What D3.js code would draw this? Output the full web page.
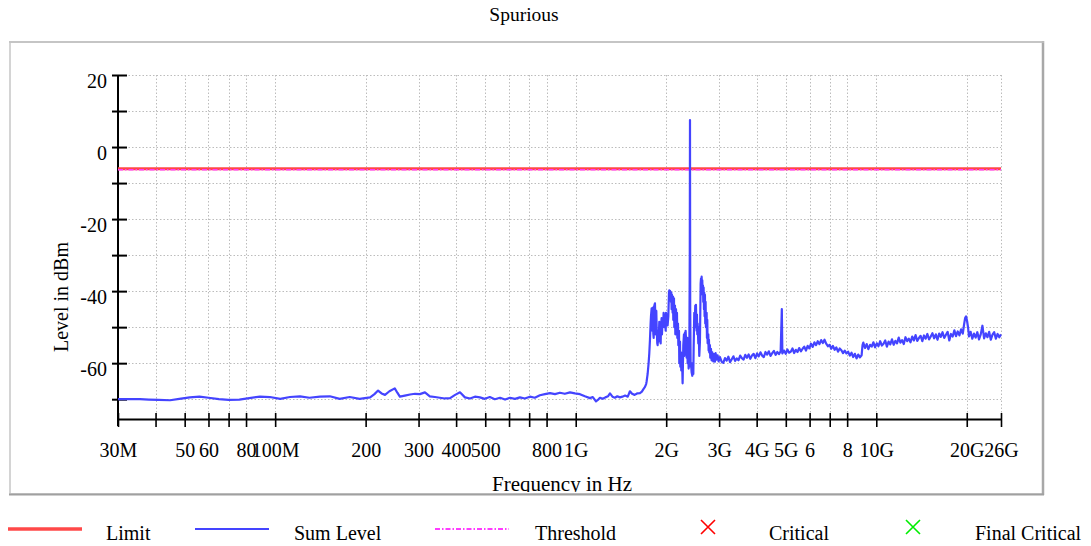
<!DOCTYPE html>
<html><head><meta charset="utf-8">
<script src="https://cdn.jsdelivr.net/npm/d3@7"></script>
<style>
body{margin:0;background:#fff}
svg{display:block}
text{font-family:"Liberation Serif","Times New Roman",serif;fill:#000}
</style>
</head><body>
<svg id="c" width="1091" height="546"></svg>
<script>
// ---------------- data ----------------
const chartTitle = "Spurious";
const xAxisTitle = "Frequency in Hz";
const yAxisTitle = "Level in dBm";
// frequency ticks in MHz
const xTickValues = [30,40,50,60,70,80,100,200,300,400,500,600,700,800,1000,2000,3000,4000,5000,6000,7000,8000,10000,20000,26000];
const xTickLabels = ["30M","","50","60","","80","100M","200","300","400","500","","","800","1G","2G","3G","4G","5G","6","","8","10G","20G","26G"];
const yTickValues = [-70,-60,-50,-40,-30,-20,-10,0,10,20];
const yTickLabels = ["","-60","","-40","","-20","","0","","20"];
const legendNames = ["Limit","Sum Level","Threshold","Critical","Final Critical"];
// limit / threshold lines  [MHz, dBm]
const limitLine = [[30,-6],[26000,-6]];
const thresholdLine = [[30,-6],[26000,-6]];
// measured sum level trace [MHz, dBm]
const sumLevel = [
[30,-70],[33,-70],[35.5,-70],[38,-70.1],[41,-70.2],[44.7,-70.3],[48,-69.9],[52,-69.5],[56,-69.3],[60,-69.6],
[65,-70],[70,-70.2],[76,-70.1],[82,-69.7],[89,-69.3],[96,-69.4],[104,-69.9],[112,-69.4],[121,-69.2],[130,-69.6],
[141,-69.3],[152,-69.2],[164,-69.9],[177,-69.4],[191,-69.9],[207,-69.5],[214,-68.6],[220,-67.6],[226,-68.4],[232,-68.8],
[240,-67.8],[250,-67],[255,-68.2],[260,-69.3],[270,-69],[281,-68.7],[292,-68.5],[303,-68.6],[315,-68.1],[327,-69.2],
[340,-69.4],[353,-69.6],[367,-69.8],[382,-69.7],[397,-68.8],[412,-68.1],[428,-69.5],[445,-69.8],[462,-69.3],[480,-69.5],
[498,-69.9],[518,-69.4],[538,-70],[560,-69.6],[582,-70.1],[604,-69.6],[628,-69.9],[652,-69.5],[677,-69.8],[704,-69.3],
[731,-69.6],[760,-68.9],[790,-68.6],[821,-68.3],[853,-68.6],[886,-68.2],[920,-68.5],[957,-68.1],[994,-68.4],[1033,-68.6],
[1073,-69.2],[1115,-69.7],[1140,-69.4],[1168,-70.6],[1185,-70.2],[1204,-69.6],[1230,-69.9],[1255,-69.5],[1280,-69.2],[1300,-68.4],
[1325,-69.3],[1350,-69.6],[1375,-69.2],[1403,-69.5],[1430,-69.3],[1460,-69],[1490,-69.3],[1515,-67.8],[1540,-68.5],[1570,-68.8],
[1600,-68.4],[1636,-68.3],[1660,-67.9],[1680,-67.2],[1700,-66.6],[1715,-65.8],[1722,-65],[1735,-63],[1748,-60],[1757,-57.3],
[1766,-53.6],[1775,-49],[1780,-47],[1789,-44.8],[1794,-47],[1798,-51],[1803,-45],[1807,-44.6],[1812,-51.8],[1817,-53],
[1821,-48],[1826,-44],[1835,-43.4],[1840,-47],[1844,-52],[1849,-48],[1854,-45.5],[1859,-50],[1868,-54.5],[1873,-55],
[1883,-51],[1888,-54],[1897,-48.5],[1902,-53],[1907,-49],[1917,-54.5],[1922,-50],[1931,-47.5],[1936,-52],[1946,-47.6],
[1956,-48.5],[1961,-46],[1971,-50],[1981,-46.5],[1992,-51],[1997,-46],[2007,-48.5],[2017,-46.5],[2022,-49.5],[2033,-47],
[2043,-40.5],[2048,-39.8],[2054,-42],[2059,-39.9],[2070,-41],[2075,-43],[2080,-40.4],[2085,-45],[2091,-41],[2101,-46],
[2107,-41.5],[2112,-48],[2123,-42],[2128,-50],[2139,-44],[2145,-52],[2156,-45],[2167,-50],[2172,-46],[2178,-53],
[2189,-49],[2195,-55],[2206,-51],[2211,-60],[2223,-54],[2229,-61],[2240,-57],[2245,-62],[2257,-58],[2268,-65.6],
[2274,-60],[2280,-55],[2292,-52],[2298,-58],[2309,-51.5],[2315,-57],[2321,-51],[2333,-55],[2339,-58.5],[2351,-53],
[2357,-60],[2369,-56],[2375,-61.5],[2381,-57],[2387,-60],[2396,-30],[2400,7.5],[2404,-45],[2412,-61],[2418,-60],
[2430,-62.5],[2443,-63.5],[2449,-60],[2462,-63],[2468,-56],[2474,-51],[2480,-46],[2487,-50],[2499,-44],[2505,-47],
[2512,-43.8],[2518,-48],[2525,-51],[2531,-46.5],[2538,-52],[2545,-49],[2558,-54.5],[2564,-50],[2577,-58],[2590,-54],
[2597,-46],[2604,-38],[2611,-36.5],[2617,-40],[2624,-36],[2631,-39.5],[2637,-37],[2644,-41],[2651,-38.5],[2657,-43],
[2664,-39],[2671,-45],[2678,-40.5],[2684,-47],[2691,-41],[2698,-49],[2705,-43],[2712,-50],[2726,-46],[2733,-53],
[2740,-48],[2747,-54.5],[2761,-52],[2768,-56.5],[2775,-53.5],[2782,-57],[2796,-55],[2803,-58.5],[2818,-56],[2832,-59.2],
[2847,-57],[2869,-59.5],[2883,-57.5],[2905,-59.6],[2920,-57.2],[2943,-59],[2965,-57.8],[2988,-59.5],
[3019,-58.3],[3058,-59.6],[3098,-59.9],[3138,-58.6],[3179,-59.3],[3220,-58.2],[3262,-59.7],[3305,-58.9],[3348,-58.1],[3391,-59.4],
[3435,-58.7],[3480,-59.2],[3525,-57.9],[3571,-58.6],[3618,-59.0],[3665,-57.7],[3712,-58.5],[3761,-57.6],[3810,-58.8],[3859,-57.9],
[3909,-57.4],[3960,-58.6],[4012,-57.3],[4064,-58.1],[4117,-57.0],[4170,-57.9],[4224,-58.3],[4279,-56.9],[4335,-57.6],[4391,-56.7],
[4448,-58.0],[4506,-57.2],[4565,-56.6],[4624,-57.7],[4684,-56.9],[4745,-57.5],[4807,-56.7],[4850,-45],[4870,-57.3],[4933,-56.5],
[4997,-57.4],[5062,-56.2],[5128,-57.1],[5195,-56.8],[5262,-55.9],[5331,-57.2],[5400,-56.3],[5470,-56.9],[5541,-55.8],[5613,-56.7],
[5686,-56.0],[5760,-55.4],[5835,-56.5],[5911,-55.2],[5988,-55.9],[6066,-54.6],[6145,-55.5],[6225,-54.2],[6306,-55.0],[6388,-53.9],
[6471,-54.7],[6555,-53.6],[6640,-54.4],[6726,-53.5],[6814,-54.6],[6902,-55.3],[6992,-54.9],[7083,-56.0],[7175,-55.2],[7268,-56.3],
[7363,-55.6],[7459,-56.8],[7556,-55.9],[7654,-56.4],[7753,-57.2],[7854,-56.5],[7956,-57.3],[8060,-56.8],[8165,-57.9],[8271,-57.1],
[8379,-58.3],[8488,-57.4],[8598,-58.7],[8710,-57.6],[8823,-58.4],[8938,-57.8],[9000,-55.0],[9054,-54.3],[9172,-55.8],[9291,-54.7],
[9412,-56.1],[9534,-54.9],[9658,-55.4],[9784,-54.2],[9911,-55.6],[10040,-54.5],[10170,-55.3],[10302,-53.9],[10436,-55.1],[10572,-54.6],
[10710,-53.7],[10849,-55.4],[10990,-54.0],[11133,-54.8],[11278,-53.4],[11424,-54.9],[11573,-53.8],[11723,-54.5],[11876,-52.9],[12030,-54.3],
[12187,-53.6],[12345,-54.7],[12506,-52.8],[12668,-53.9],[12833,-53.2],[13000,-54.2],[13169,-52.6],[13340,-53.7],[13514,-52.2],[13689,-53.8],
[13867,-53.0],[14047,-52.4],[14230,-53.9],[14415,-52.3],[14602,-53.2],[14792,-51.9],[14985,-53.4],[15180,-52.6],[15377,-51.7],[15577,-53.1],
[15779,-52.0],[15984,-53.5],[16192,-51.8],[16403,-52.7],[16616,-51.4],[16832,-53.0],[17051,-52.1],[17273,-51.3],[17497,-53.7],[17725,-51.9],
[17955,-52.6],[18189,-50.9],[18425,-52.5],[18665,-51.2],[18907,-52.3],[19153,-50.6],[19402,-51.8],[19600,-49.2],[19750,-47.5],[19900,-47.0],
[20050,-48.3],[20200,-50.1],[20350,-52.6],[20600,-51.3],[20870,-53.2],[21140,-51.8],[21410,-52.9],[21690,-51.4],[21970,-53.4],[22260,-52.0],
[22550,-49.6],[22840,-53.1],[23140,-51.7],[23440,-52.8],[23740,-51.3],[24050,-53.5],[24360,-52.1],[24680,-51.4],[25000,-53.2],[25330,-51.9],
[25660,-52.8],[26000,-52.0]
];

// ---------------- layout ----------------
const plot = {left:118, right:1001, top:75, bottom:419};
const svg = d3.select("#c");
const font = "Liberation Serif, Times New Roman, serif";

const x = d3.scaleLog().domain([30, 26000]).range([plot.left, plot.right]);
const y = d3.scaleLinear().domain([-75.5, 20]).range([plot.bottom, plot.top]);

// frame
const defs = svg.append("defs");
defs.append("clipPath").attr("id","frameClip").append("rect")
  .attr("x",10).attr("y",42).attr("width",1033).attr("height",450);
svg.append("rect").attr("x",10).attr("y",42).attr("width",1033).attr("height",452)
  .attr("fill","#fff").attr("stroke","#d4d4d4").attr("stroke-width",2);
svg.append("line").attr("x1",1043).attr("x2",1043).attr("y1",41).attr("y2",495)
  .attr("stroke","#a8a8a8").attr("stroke-width",2.5);
svg.append("line").attr("x1",9).attr("x2",1044).attr("y1",494.5).attr("y2",494.5)
  .attr("stroke","#a0a0a0").attr("stroke-width",2);
svg.append("line").attr("x1",9).attr("x2",1044).attr("y1",42).attr("y2",42)
  .attr("stroke","#c0c0c0").attr("stroke-width",1.5);

// title
svg.append("text").attr("x",524).attr("y",21).attr("text-anchor","middle")
  .attr("font-size",19.5).text(chartTitle);

// grid
const grid = svg.append("g").attr("stroke","#bcbcbc").attr("stroke-width",1)
  .attr("stroke-dasharray","1.5,2").attr("fill","none");
grid.selectAll("line.h").data(yTickValues).join("line")
  .attr("x1",plot.left).attr("x2",plot.right)
  .attr("y1",d=>Math.round(y(d))+0.5).attr("y2",d=>Math.round(y(d))+0.5);
grid.selectAll("line.v").data(xTickValues.slice(1)).join("line")
  .attr("y1",plot.top).attr("y2",plot.bottom)
  .attr("x1",d=>Math.round(x(d))+0.5).attr("x2",d=>Math.round(x(d))+0.5);

// y axis
const yAxis = svg.append("g").attr("transform",`translate(${plot.left},0)`)
  .call(d3.axisLeft(y).tickValues(yTickValues).tickSizeOuter(0)
    .tickFormat((d,i)=>yTickLabels[i]));
yAxis.select(".domain").attr("stroke","#000").attr("stroke-width",2)
  .attr("d",`M0,${plot.top}V${plot.bottom+7}`);
yAxis.selectAll(".tick line").attr("x1",-6).attr("x2",9).attr("stroke","#000").attr("stroke-width",2);
yAxis.selectAll(".tick text").attr("x",-11).attr("dy",null).attr("y",12.5)
  .attr("font-family",font).attr("font-size",20).attr("fill","#000");

// x axis
const xAxis = svg.append("g").attr("transform",`translate(0,${plot.bottom})`)
  .call(d3.axisBottom(x).tickValues(xTickValues).tickSizeOuter(0)
    .tickFormat((d,i)=>xTickLabels[i]));
xAxis.select(".domain").attr("stroke","#000").attr("stroke-width",2);
xAxis.selectAll(".tick line").attr("y1",-6).attr("y2",8).attr("stroke","#000").attr("stroke-width",1.6);
xAxis.selectAll(".tick text").attr("dy",null).attr("y",38)
  .attr("font-family",font).attr("font-size",20).attr("fill","#000");

// axis titles
svg.append("text").attr("transform","translate(68,297) rotate(-90)")
  .attr("text-anchor","middle").attr("font-size",20).text(yAxisTitle);
svg.append("g").attr("clip-path","url(#frameClip)")
  .append("text").attr("x",562).attr("y",491).attr("text-anchor","middle")
  .attr("font-size",21).text(xAxisTitle);

// series
const line = d3.line().x(d=>x(d[0])).y(d=>y(d[1]));
svg.append("path").datum(limitLine).attr("d",line).attr("fill","none")
  .attr("stroke","#ff4848").attr("stroke-width",3);
svg.append("path").datum(thresholdLine).attr("d",line).attr("fill","none")
  .attr("stroke","#ff3cff").attr("stroke-width",1.5).attr("stroke-dasharray","5,2,1.5,2")
  .attr("transform","translate(0,1)");
svg.append("path").datum(sumLevel).attr("d",line).attr("fill","none")
  .attr("stroke","#4444ff").attr("stroke-width",2.2).attr("stroke-linejoin","round");

// legend
const lg = svg.append("g");
const ly = 529, lty = 540;
const items = [
  {name:legendNames[0], sx:8,   tx:106, type:"line", color:"#ff4848", w:3.5},
  {name:legendNames[1], sx:195, tx:294, type:"line", color:"#4444ff", w:2},
  {name:legendNames[2], sx:435, tx:535, type:"dash", color:"#ff3cff", w:2},
  {name:legendNames[3], sx:708, tx:769, type:"x", color:"#ff0000"},
  {name:legendNames[4], sx:913, tx:975, type:"x", color:"#00ee00"}
];
items.forEach(it=>{
  if(it.type==="line"||it.type==="dash"){
    const l = lg.append("line").attr("x1",it.sx).attr("x2",it.sx+74)
      .attr("y1",ly).attr("y2",ly).attr("stroke",it.color).attr("stroke-width",it.w);
    if(it.type==="dash") l.attr("stroke-dasharray","5,2,1.5,2");
  } else {
    const s = 7;
    lg.append("path").attr("d",`M${it.sx-s},${ly-2-s}L${it.sx+s},${ly-2+s}M${it.sx+s},${ly-2-s}L${it.sx-s},${ly-2+s}`)
      .attr("stroke",it.color).attr("stroke-width",1.6).attr("fill","none");
  }
  lg.append("text").attr("x",it.tx).attr("y",lty).attr("font-size",20).text(it.name);
});
</script>
</body></html>
